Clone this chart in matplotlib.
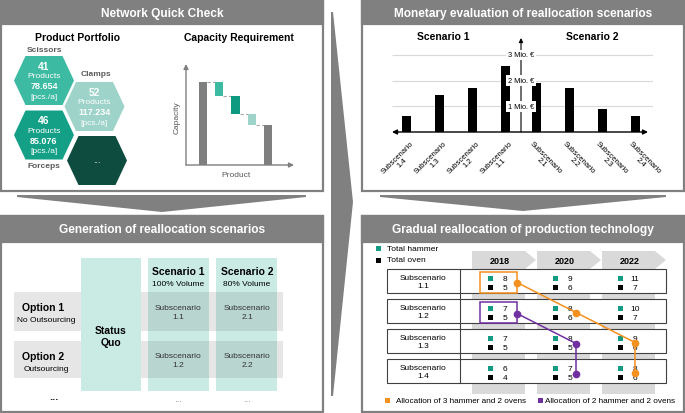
import matplotlib
matplotlib.use('Agg')
import matplotlib.pyplot as plt
from matplotlib.patches import Polygon, Rectangle

plt.rcParams['font.family'] = ['Liberation Sans', 'DejaVu Sans']

# ---------------- data ----------------
panel_titles = ['Network Quick Check', 'Monetary evaluation of reallocation scenarios',
                'Generation of reallocation scenarios', 'Gradual reallocation of production technology']

product_groups = ['Scissors', 'Clamps', 'Forceps']
product_counts = [41, 52, 46]
product_volumes = ['78.654', '117.234', '85.076']

capacity_start = 100
capacity_deltas = [-17, -22, -13]

scenario1_labels = ['1.1', '1.2', '1.3', '1.4']
scenario1_values = [2.57, 1.71, 1.44, 0.62]
scenario2_labels = ['2.1', '2.2', '2.3', '2.4']
scenario2_values = [1.90, 1.71, 0.90, 0.62]
value_ticks = [1, 2, 3]

option_names = ['Option 1', 'Option 2']
option_desc = ['No Outsourcing', 'Outsourcing']
scenario_names = ['Scenario 1', 'Scenario 2']
scenario_desc = ['100% Volume', '80% Volume']

years = ['2018', '2020', '2022']
subscenarios = ['1.1', '1.2', '1.3', '1.4']
hammer = [[8, 9, 11], [7, 8, 10], [7, 8, 9], [6, 7, 8]]
oven = [[5, 6, 7], [5, 6, 7], [5, 5, 6], [4, 5, 6]]
path_3h2o = [(0, 0), (1, 1), (2, 2), (3, 2)]   # (row, year)
path_2h2o = [(1, 0), (2, 1), (3, 1)]
legend_alloc = ['Allocation of 3 hammer and 2 ovens', 'Allocation of 2 hammer and 2 ovens']

# ---------------- styles ----------------
GRAY = '#808080'
TEAL_M = '#3dbaa2'
TEAL_L = '#9dd3c8'
TEAL_D = '#14a086'
TEAL_DD = '#0f4c40'
TEAL_SQ = '#139a83'
COL_TEAL = '#c9ebe4'
ORANGE = '#f4901e'
PURPLE = '#7030a0'

W, H = 685, 414
fig = plt.figure(figsize=(W / 100, H / 100), dpi=100)
ax = fig.add_axes([0, 0, 1, 1])
ax.set_xlim(0, W)
ax.set_ylim(H, 0)
ax.axis('off')


def inset(x0, y0, x1, y1):
    a = fig.add_axes([x0 / W, 1 - y1 / H, (x1 - x0) / W, (y1 - y0) / H])
    a.patch.set_alpha(0)
    a.axis('off')
    return a


def panel(x0, y0, x1, y1, title, hh):
    ax.add_patch(Rectangle((x0, y0), x1 - x0, y1 - y0, fc='white', ec=GRAY, lw=1.6))
    ax.add_patch(Rectangle((x0, y0), x1 - x0, hh, fc=GRAY, ec=GRAY, lw=1.6))
    ax.text((x0 + x1) / 2, y0 + hh / 2 + 0.5, title, color='white', fontsize=8.6,
            weight='bold', ha='center', va='center')


panel(1, 1, 323, 192, panel_titles[0], 24)
panel(362, 1, 684, 192, panel_titles[1], 24)
panel(1, 217, 323, 413, panel_titles[2], 26)
panel(362, 217, 684, 413, panel_titles[3], 26)

# connecting chevrons
ax.add_patch(Polygon([(17, 196), (306, 196), (306, 198), (162, 213), (17, 198)], fc=GRAY, ec='none'))
ax.add_patch(Polygon([(380, 196), (666, 196), (666, 198), (523, 212), (380, 198)], fc=GRAY, ec='none'))
ax.add_patch(Polygon([(331, 13), (333, 13), (353, 203), (333, 397), (331, 397)], fc=GRAY, ec='none'))

# ---------------- top-left: product portfolio ----------------
ax.text(78, 38, 'Product Portfolio', fontsize=7.5, weight='bold', ha='center', va='center')
ax.text(239, 38, 'Capacity Requirement', fontsize=7.5, weight='bold', ha='center', va='center')


def hexagon(cx, cy, color, hw=30, hh=24.5, a=18.5):
    ax.add_patch(Polygon([(cx - a, cy - hh), (cx + a, cy - hh), (cx + hw, cy),
                          (cx + a, cy + hh), (cx - a, cy + hh), (cx - hw, cy)], fc=color, ec='none'))


hex_centers = [(44, 81.5), (94.5, 107.5), (44, 136)]
hex_colors = [TEAL_M, TEAL_L, TEAL_D]
label_pos = [(44, 50), (95.5, 75), (44, 167)]
for name, cnt, vol, (cx, cy), col, (lx, ly) in zip(product_groups, product_counts, product_volumes,
                                                    hex_centers, hex_colors, label_pos):
    hexagon(cx, cy, col)
    ax.text(cx, cy - 15, str(cnt), color='white', fontsize=7.4, weight='bold', ha='center', va='center')
    ax.text(cx, cy - 4.8, 'Products', color='white', fontsize=6, ha='center', va='center')
    ax.text(cx, cy + 5.2, vol, color='white', fontsize=6.5, weight='bold', ha='center', va='center')
    ax.text(cx, cy + 16, '[pcs./a]', color='white', fontsize=6, ha='center', va='center')
    ax.text(lx, ly, name, color='#595959', fontsize=6, weight='bold', ha='center', va='center')
hexagon(97, 161.5, TEAL_DD)
ax.text(97, 161, '...', color='#cccccc', fontsize=6.5, ha='center', va='center')

# waterfall
wf = inset(186, 65, 294, 166)
wf.set_xlim((186 - 203) / 16.25, (294 - 203) / 16.25)
wf.set_ylim(0, 101 / 0.83)
levels = [capacity_start]
for d in capacity_deltas:
    levels.append(levels[-1] + d)
bw = 0.5
wf.bar(0, capacity_start, width=bw, color='#7f7f7f', zorder=3)
seg_cols = [TEAL_M, '#0d9a80', TEAL_L]
for i, d in enumerate(capacity_deltas):
    wf.bar(i + 1, -d, bottom=levels[i + 1], width=bw, color=seg_cols[i], zorder=3)
wf.bar(len(capacity_deltas) + 1, levels[-1], width=bw, color='#7f7f7f', zorder=3)
for i in range(len(levels)):
    wf.plot([i + bw / 2, i + 1 - bw / 2], [levels[i], levels[i]], color='#a6a6a6',
            lw=0.8, ls=(0, (3, 2)), zorder=2)
x0w, x1w = wf.get_xlim()
y1w = wf.get_ylim()[1]
wf.annotate('', xy=(x0w, y1w), xytext=(x0w, 0), annotation_clip=False,
            arrowprops=dict(arrowstyle='-|>', color='#7f7f7f', lw=1, mutation_scale=7, shrinkA=0, shrinkB=0))
wf.annotate('', xy=(x1w, 0), xytext=(x0w, 0), annotation_clip=False,
            arrowprops=dict(arrowstyle='-|>', color='#7f7f7f', lw=1, mutation_scale=7, shrinkA=0, shrinkB=0))
ax.text(177, 118, 'Capacity', rotation=90, fontsize=6, color='#595959', ha='center', va='center')
ax.text(236, 176, 'Product', fontsize=6, color='#595959', ha='center', va='center')

# ---------------- top-right: monetary evaluation ----------------
ax.text(443, 37, scenario_names[0], fontsize=7.5, weight='bold', ha='center', va='center')
ax.text(592, 37, scenario_names[1], fontsize=7.5, weight='bold', ha='center', va='center')

bc = inset(392, 39, 653, 133)
bc.set_xlim((392 - 521) / 33, (653 - 521) / 33)
bc.set_ylim(0, 94 / 25.67)
bxl, bxr = bc.get_xlim()
bc.hlines(value_ticks, bxl, bxr, color='#d9d9d9', lw=0.8, zorder=0)
bar_w = 0.27
for k, (lab, v) in enumerate(zip(scenario1_labels, scenario1_values)):
    p = -(k + 0.46)
    bc.bar(p, v, width=bar_w, color='black', zorder=3)
    bc.text(p + 0.09, -0.3, f'Subscenario\n{lab}', rotation=45, ha='right', va='top',
            rotation_mode='anchor', multialignment='center', fontsize=5.5, clip_on=False,
            linespacing=1.0)
for k, (lab, v) in enumerate(zip(scenario2_labels, scenario2_values)):
    p = k + 0.48
    bc.bar(p, v, width=bar_w, color='black', zorder=3)
    bc.text(p - 0.1, -0.3, f'Subscenario\n{lab}', rotation=-45, ha='left', va='top',
            rotation_mode='anchor', multialignment='center', fontsize=5.5, clip_on=False,
            linespacing=1.0)
bc.annotate('', xy=((648 - 521) / 33, 0), xytext=(bxl, 0), annotation_clip=False,
            arrowprops=dict(arrowstyle='<|-|>', color='black', lw=1, mutation_scale=7, shrinkA=0, shrinkB=0),
            zorder=4)
bc.annotate('', xy=(0, bc.get_ylim()[1]), xytext=(0, 0), annotation_clip=False,
            arrowprops=dict(arrowstyle='-|>', color='black', lw=0.8, mutation_scale=6, shrinkA=0, shrinkB=0),
            zorder=4)
for v in value_ticks:
    bc.text(0, v, f'{v} Mio. €', fontsize=5.3, ha='center', va='center', zorder=6,
            bbox=dict(fc='white', ec='none', pad=1.2))

# ---------------- bottom-left: generation of scenarios ----------------
col_centers = [178.5, 247]
for cx in col_centers:
    ax.add_patch(Rectangle((cx - 30.5, 259), 61, 133, fc=COL_TEAL, ec='none'))
row_spans = [(293, 332), (342, 379)]
for (ya, yb) in row_spans:
    ax.add_patch(Rectangle((14, ya), 269, yb - ya, fc='#585858', alpha=0.15, ec='none'))
ax.add_patch(Rectangle((81, 259), 60, 133, fc=COL_TEAL, ec='none'))
ax.text(111, 337, 'Status\nQuo', fontsize=7.5, weight='bold', ha='center', va='center', linespacing=1.2)
for i, cx in enumerate(col_centers):
    ax.text(cx, 272, scenario_names[i], fontsize=7.5, weight='bold', ha='center', va='center')
    ax.text(cx, 285, scenario_desc[i], fontsize=6, ha='center', va='center')
    for j, (ya, yb) in enumerate(row_spans):
        ax.text(cx, (ya + yb) / 2 + 0.5, f'Subscenario\n{i + 1}.{j + 1}', fontsize=6,
                ha='center', va='center', color='#333333', linespacing=1.25)
    ax.text(cx, 399, '...', fontsize=7, color='#8c8c8c', ha='center', va='center')
for j, (ya, yb) in enumerate(row_spans):
    ax.text(43, ya + 15, option_names[j], fontsize=7.5, weight='bold', ha='center', va='center')
    ax.text(46, ya + 28, option_desc[j], fontsize=6, ha='center', va='center')
ax.text(54, 397, '...', fontsize=8, weight='bold', color='#333333', ha='center', va='center')

# ---------------- bottom-right: gradual reallocation ----------------
ax.add_patch(Rectangle((376.5, 247), 5, 5, fc=TEAL_SQ, ec='none'))
ax.text(387, 249.5, 'Total hammer', fontsize=6, ha='left', va='center')
ax.add_patch(Rectangle((376.5, 258.5), 5, 5, fc='black', ec='none'))
ax.text(387, 261, 'Total oven', fontsize=6, ha='left', va='center')

year_c = [498.5, 563.5, 628.5]
for c, yr in zip(year_c, years):
    ax.add_patch(Rectangle((c - 26.5, 252), 53, 143, fc='#d9d9d9', ec='none'))
    ax.add_patch(Polygon([(c - 26.5, 252), (c + 26.5, 252), (c + 37.5, 261), (c + 26.5, 270),
                          (c - 26.5, 270)], fc='#d9d9d9', ec='none'))
    ax.text(c + 1, 261.5, yr, fontsize=6.5, weight='bold', ha='center', va='center')

row_top = [270 + 30 * r for r in range(len(subscenarios))]
for r, sub in enumerate(subscenarios):
    t = row_top[r]
    ax.add_patch(Rectangle((387, t), 279, 24, fc='white', ec='#404040', lw=0.8))
    ax.text(423, t + 12.5, f'Subscenario\n{sub}', fontsize=6, ha='center', va='center', linespacing=1.2)
    for yi, c in enumerate(year_c):
        ax.add_patch(Rectangle((c - 10, t + 6.5), 5, 5, fc=TEAL_SQ, ec='none'))
        ax.add_patch(Rectangle((c - 10, t + 15.5), 5, 5, fc='black', ec='none'))
        ax.text(c + 6.5, t + 9.3, str(hammer[r][yi]), fontsize=6, ha='center', va='center')
        ax.text(c + 6.5, t + 18.3, str(oven[r][yi]), fontsize=6, ha='center', va='center')
ax.plot([460, 460], [row_top[0], row_top[-1] + 24], color='#404040', lw=0.8)

dot_x = [517, 576, 635]
for path, col, dy in [(path_3h2o, ORANGE, 1.5), (path_2h2o, PURPLE, 2.5)]:
    r0, y0 = path[0]
    ax.add_patch(Rectangle((year_c[y0] - 18.5, row_top[r0] + 3.2), 37, 20.3, fill=False, ec=col, lw=1.1))
    xs = [dot_x[yy] for rr, yy in path]
    ys = [row_top[rr] + 12 + dy for rr, yy in path]
    ax.plot(xs, ys, color=col, lw=1.1, marker='o', ms=4.5, zorder=5)

ax.add_patch(Rectangle((385.5, 399.5), 5, 5, fc=ORANGE, ec='none'))
ax.text(396, 402, legend_alloc[0], fontsize=5.9, ha='left', va='center')
ax.add_patch(Rectangle((538.5, 399.5), 5, 5, fc=PURPLE, ec='none'))
ax.text(545, 402, legend_alloc[1], fontsize=5.9, ha='left', va='center')

fig.savefig('out.png', dpi=100)
